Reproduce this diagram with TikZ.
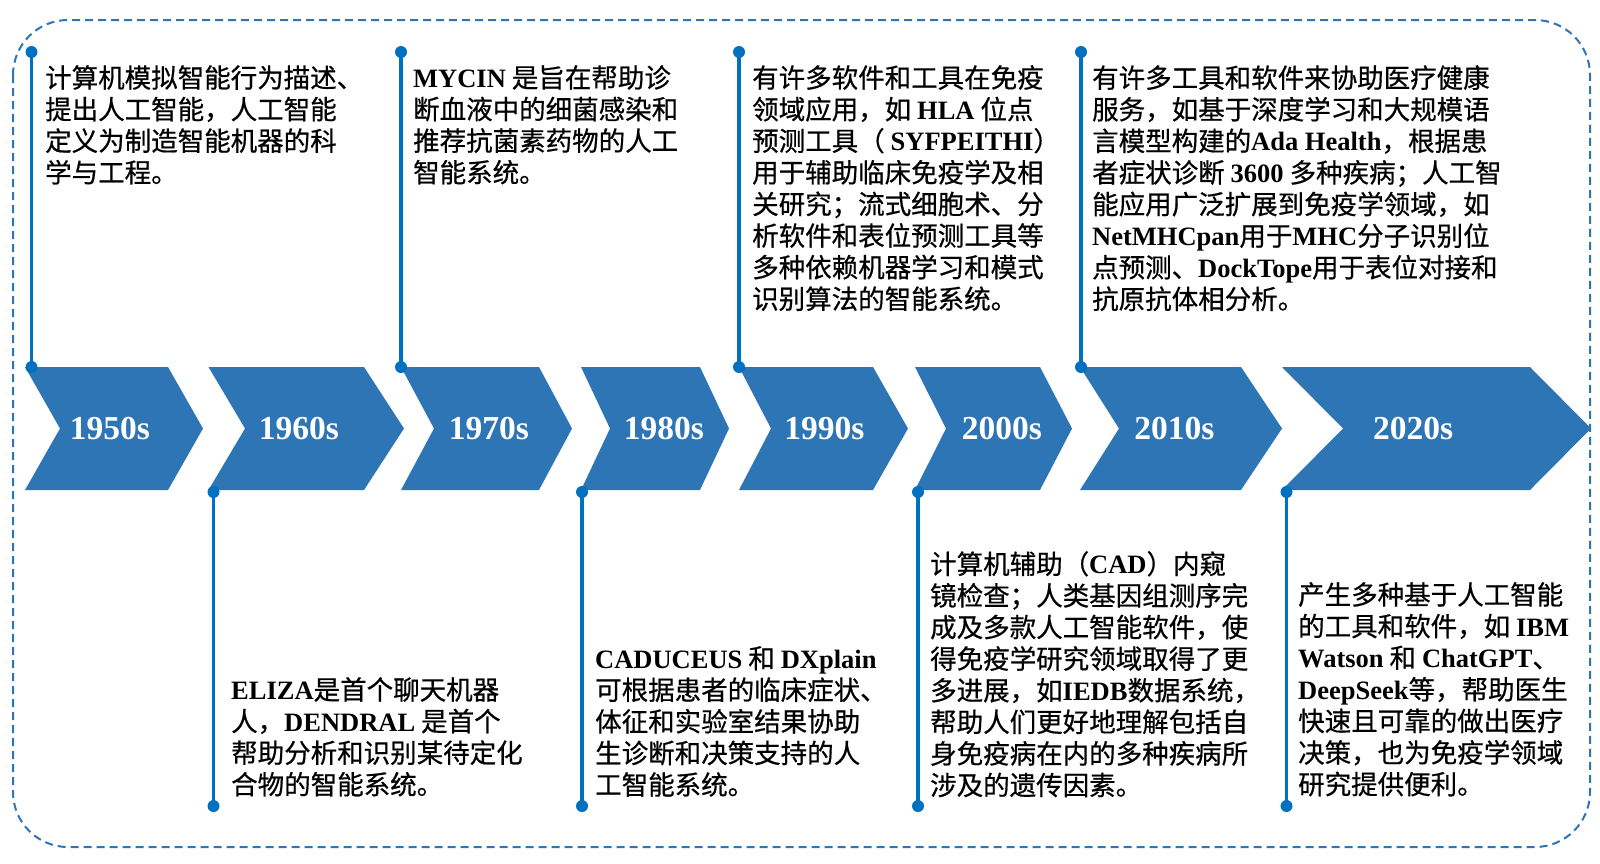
\documentclass[tikz,border=0pt]{standalone}
\usepackage{fontspec}
\setmainfont{Liberation Serif}
\newfontfamily\cjkf{Noto Sans CJK SC}[RawFeature={embolden=0.6}]
\newfontfamily\latf{Liberation Serif}
\newcommand\E[1]{{\latf\bfseries #1}}
\definecolor{chevblue}{HTML}{2E75B6}
\definecolor{stemblue}{HTML}{0070C0}
\definecolor{dashblue}{HTML}{2E75B6}
\newcommand\chevshape[4]{\fill[chevfill] (#1,367) -- (#2,367) -- (#3,428.5) -- (#2,490) -- (#1,490) -- (#4,428.5) -- cycle;}
\begin{document}
\begin{tikzpicture}[x=1pt,y=-1pt,
  chevfill/.style={fill=chevblue},
  yearlbl/.style={text=white, font=\latf\bfseries\fontsize{33.5}{36}\selectfont, inner sep=0},
  dotnode/.style={circle, fill=stemblue, inner sep=0, minimum size=12pt},
  stemline/.style={draw=stemblue, line width=3.5pt},
  desc/.style={anchor=north west, inner sep=0, align=left, text=black, font=\cjkf\fontsize{26.5}{31.6}\selectfont},
  frame/.style={draw=dashblue, line width=2pt, dash pattern=on 8pt off 5pt, rounded corners=55pt}
]
\useasboundingbox (0,0) rectangle (1600,863);
\draw[frame] (13,20) rectangle (1590,847);

% chevrons
\chevshape{25}{168}{203}{60}
\chevshape{208.5}{364}{404}{245}
\chevshape{401}{539}{572}{434}
\chevshape{581}{700}{729}{610}
\chevshape{739}{873}{908}{771}
\chevshape{915}{1040}{1072}{946}
\chevshape{1080}{1241}{1282}{1119}
\chevshape{1282}{1530}{1591}{1343}

% year labels
\node[yearlbl] (y1950) at (110,428.5) {1950s};
\node[yearlbl] (y1960) at (299,428.5) {1960s};
\node[yearlbl] (y1970) at (489,428.5) {1970s};
\node[yearlbl] (y1980) at (664,428.5) {1980s};
\node[yearlbl] (y1990) at (824.5,428.5) {1990s};
\node[yearlbl] (y2000) at (1002,428.5) {2000s};
\node[yearlbl] (y2010) at (1174.5,428.5) {2010s};
\node[yearlbl] (y2020) at (1413,428.5) {2020s};

% stems above
\node[dotnode] (s1950a) at (31.5,52) {};
\node[dotnode] (s1950b) at (31.5,367) {};
\node[dotnode] (s1970a) at (401,52) {};
\node[dotnode] (s1970b) at (401,367) {};
\node[dotnode] (s1990a) at (739,52) {};
\node[dotnode] (s1990b) at (739,367) {};
\node[dotnode] (s2010a) at (1081,52) {};
\node[dotnode] (s2010b) at (1081,367) {};
% stems below
\node[dotnode] (s1960a) at (213.5,492) {};
\node[dotnode] (s1960b) at (213.5,806) {};
\node[dotnode] (s1980a) at (582,492) {};
\node[dotnode] (s1980b) at (582,806) {};
\node[dotnode] (s2000a) at (918,492) {};
\node[dotnode] (s2000b) at (918,806) {};
\node[dotnode] (s2020a) at (1286.5,492) {};
\node[dotnode] (s2020b) at (1286.5,806) {};
\foreach \s in {1950,1960,1970,1980,1990,2000,2010,2020}
  \draw[stemline] (s\s a.center) -- (s\s b.center);

% descriptions
\node[desc] (d1950) at (45,65) {计算机模拟智能行为描述、\\提出人工智能，人工智能\\定义为制造智能机器的科\\学与工程。};
\node[desc] (d1970) at (413,65) {\E{MYCIN} 是旨在帮助诊\\断血液中的细菌感染和\\推荐抗菌素药物的人工\\智能系统。};
\node[desc] (d1990) at (752,65) {有许多软件和工具在免疫\\领域应用，如 \E{HLA} 位点\\预测工具（ \E{SYFPEITHI}）\\用于辅助临床免疫学及相\\关研究；流式细胞术、分\\析软件和表位预测工具等\\多种依赖机器学习和模式\\识别算法的智能系统。};
\node[desc] (d2010) at (1092,65) {有许多工具和软件来协助医疗健康\\服务，如基于深度学习和大规模语\\言模型构建的\E{Ada Health}，根据患\\者症状诊断 \E{3600} 多种疾病；人工智\\能应用广泛扩展到免疫学领域，如\\\E{NetMHCpan}用于\E{MHC}分子识别位\\点预测、\E{DockTope}用于表位对接和\\抗原抗体相分析。};
\node[desc] (d1960) at (231,677) {\E{ELIZA}是首个聊天机器\\人，\E{DENDRAL} 是首个\\帮助分析和识别某待定化\\合物的智能系统。};
\node[desc] (d1980) at (595,646) {\E{CADUCEUS} 和 \E{DXplain}\\可根据患者的临床症状、\\体征和实验室结果协助\\生诊断和决策支持的人\\工智能系统。};
\node[desc] (d2000) at (930,551) {计算机辅助（\E{CAD}）内窥\\镜检查；人类基因组测序完\\成及多款人工智能软件，使\\得免疫学研究领域取得了更\\多进展，如\E{IEDB}数据系统，\\帮助人们更好地理解包括自\\身免疫病在内的多种疾病所\\涉及的遗传因素。};
\node[desc] (d2020) at (1298,582) {产生多种基于人工智能\\的工具和软件，如 \E{IBM}\\\E{Watson} 和 \E{ChatGPT}、\\\E{DeepSeek}等，帮助医生\\快速且可靠的做出医疗\\决策，也为免疫学领域\\研究提供便利。};
\end{tikzpicture}
\end{document}
